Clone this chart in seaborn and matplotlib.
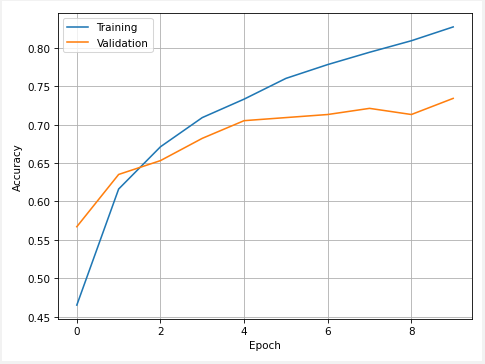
import pandas as pd
import matplotlib
matplotlib.use("Agg")
import matplotlib.pyplot as plt
import seaborn as sns
from matplotlib.patches import Rectangle

# Historique d'entrainement
epochs = [0, 1, 2, 3, 4, 5, 6, 7, 8, 9]
training = [0.465, 0.616, 0.671, 0.709, 0.733, 0.760, 0.778, 0.794, 0.809, 0.827]
validation = [0.567, 0.635, 0.653, 0.682, 0.705, 0.709, 0.713, 0.721, 0.713, 0.734]

df = pd.DataFrame({
    "Epoch": epochs * 2,
    "Accuracy": training + validation,
    "Set": ["Training"] * len(epochs) + ["Validation"] * len(epochs),
})

fig = plt.figure(figsize=(485 / 75, 365 / 75), dpi=75, facecolor="#f2f2f2")
# fond blanc interieur avec une petite bordure grise
fig.patches.append(Rectangle((2 / 485, 3 / 365), 480 / 485, 360 / 365,
                             transform=fig.transFigure, facecolor="white",
                             edgecolor="none", zorder=-10))
ax = fig.add_axes([58 / 485, 1 - 320 / 365, 414 / 485, 306 / 365])

sns.lineplot(data=df, x="Epoch", y="Accuracy", hue="Set",
             palette=["#1f77b4", "#ff7f0e"], ax=ax, linewidth=1.5)

ax.grid(True)
ax.legend(loc="upper left")
ax.set_xlabel("Epoch")
ax.set_ylabel("Accuracy")

fig.savefig("out.png", dpi=75, facecolor=fig.get_facecolor())
